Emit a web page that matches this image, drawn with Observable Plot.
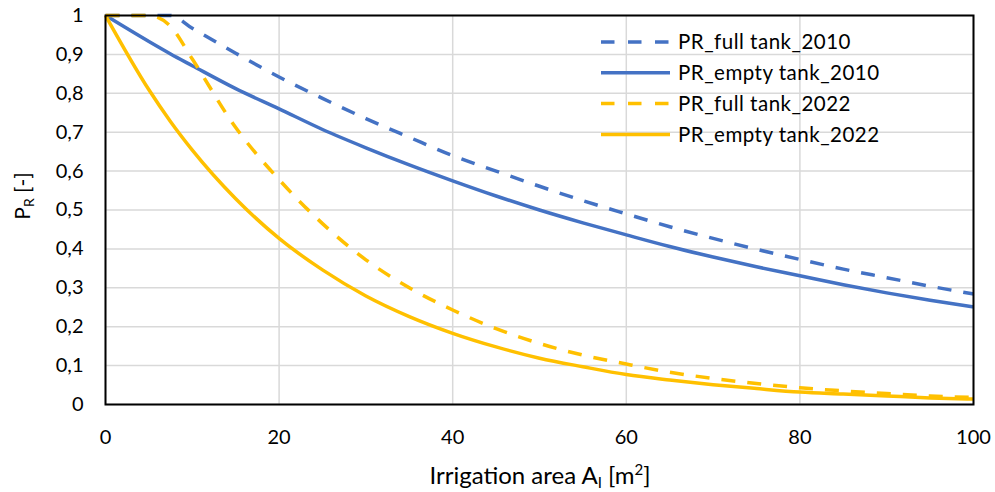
<!DOCTYPE html>
<html>
<head>
<meta charset="utf-8">
<script src="https://cdn.jsdelivr.net/npm/d3@7"></script>
<script src="https://cdn.jsdelivr.net/npm/@observablehq/plot@0.6"></script>
<style>
  html, body { margin: 0; padding: 0; background: #fff; }
  #chart { width: 995px; height: 492px; }
</style>
</head>
<body>
<div id="chart"></div>
<script>
// ---- data ----
const area = [0, 5, 7.5, 10, 15, 20, 25, 30, 35, 40, 45, 50, 55, 60, 65, 70, 75, 80, 85, 90, 95, 100];
const fullTank2010  = [1, 1, 1, 0.967, 0.903, 0.842, 0.787, 0.735, 0.687, 0.640, 0.600, 0.561, 0.524, 0.490, 0.457, 0.427, 0.399, 0.373, 0.348, 0.326, 0.304, 0.284];
const emptyTank2010 = [1, 0.933, 0.901, 0.871, 0.812, 0.760, 0.707, 0.660, 0.616, 0.575, 0.536, 0.500, 0.467, 0.436, 0.406, 0.379, 0.354, 0.331, 0.308, 0.287, 0.268, 0.251];
const fullTank2022  = [1, 1, 0.972, 0.888, 0.712, 0.578, 0.465, 0.372, 0.300, 0.243, 0.195, 0.157, 0.127, 0.104, 0.083, 0.067, 0.054, 0.043, 0.035, 0.028, 0.022, 0.018];
const emptyTank2022 = [1, 0.809, 0.727, 0.654, 0.529, 0.427, 0.346, 0.279, 0.226, 0.183, 0.148, 0.119, 0.097, 0.077, 0.063, 0.051, 0.041, 0.032, 0.027, 0.022, 0.017, 0.014];

const seriesNames = ["PR_full tank_2010", "PR_empty tank_2010", "PR_full tank_2022", "PR_empty tank_2022"];
const seriesValues = [fullTank2010, emptyTank2010, fullTank2022, emptyTank2022];
const seriesColors = ["#4472C4", "#4472C4", "#FFC000", "#FFC000"];
const seriesDashed = [true, false, true, false];

const xTicks = [0, 20, 40, 60, 80, 100];
const yTicks = [0, 0.1, 0.2, 0.3, 0.4, 0.5, 0.6, 0.7, 0.8, 0.9, 1];

// ---- build ----
const rows = seriesNames.map((name, i) => area.map((a, j) => ({series: name, area: a, pr: seriesValues[i][j]})));

const W = 995, H = 492;
const fmt = d => String(d).replace(".", ",");

const plot = Plot.plot({
  width: W,
  height: H,
  marginLeft: 105,
  marginRight: 22,
  marginTop: 15,
  marginBottom: 88,
  style: {fontFamily: "Lato, 'Open Sans', sans-serif", fontSize: "20px", color: "#000", background: "#fff"},
  x: {domain: [0, 100]},
  y: {domain: [0, 1]},
  marks: [
    Plot.gridX(xTicks, {stroke: "#d9d9d9", strokeOpacity: 1, strokeWidth: 1.5}),
    Plot.gridY(yTicks, {stroke: "#d9d9d9", strokeOpacity: 1, strokeWidth: 1.5}),
    ...rows.map((r, i) => Plot.line(r, {
      x: "area", y: "pr",
      stroke: seriesColors[i],
      strokeWidth: 3.5,
      strokeDasharray: seriesDashed[i] ? "14,12" : null,
      strokeLinecap: "butt",
      curve: "monotone-x"
    })),
    Plot.frame({stroke: "#000", strokeWidth: 2}),
    Plot.axisX(xTicks, {tickSize: 0, tickPadding: 25, tickFormat: d => d, label: null}),
    Plot.axisY(yTicks, {tickSize: 0, tickPadding: 22, tickFormat: fmt, label: null})
  ]
});

document.getElementById("chart").appendChild(plot);

// ---- axis titles and legend (text as real SVG text) ----
const svg = d3.select(plot);
const font = "Lato, 'Open Sans', sans-serif";

// x title
const xt = svg.append("text")
  .attr("x", 540).attr("y", 484)
  .attr("text-anchor", "middle")
  .attr("font-family", font).attr("font-size", 24).attr("fill", "#000");
xt.append("tspan").text("Irrigation area A");
xt.append("tspan").attr("font-size", 15).attr("dy", 4).text("I");
xt.append("tspan").attr("dy", -4).text(" [m");
xt.append("tspan").attr("font-size", 15).attr("dy", -9).text("2");
xt.append("tspan").attr("dy", 9).text("]");

// y title
const yt = svg.append("text")
  .attr("transform", "translate(30,196) rotate(-90)")
  .attr("text-anchor", "middle")
  .attr("font-family", font).attr("font-size", 21).attr("fill", "#000");
yt.append("tspan").text("P");
yt.append("tspan").attr("font-size", 14).attr("dy", 4).text("R");
yt.append("tspan").attr("dy", -4).text(" [-]");

// legend
const lg = svg.append("g").attr("transform", "translate(601,42)");
seriesNames.forEach((name, i) => {
  const g = lg.append("g").attr("transform", `translate(0,${i * 30.8})`);
  g.append("line")
    .attr("x1", 0).attr("x2", 69).attr("y1", 0).attr("y2", 0)
    .attr("stroke", seriesColors[i]).attr("stroke-width", 3.5)
    .attr("stroke-linecap", "butt")
    .attr("stroke-dasharray", seriesDashed[i] ? "13.5,13.5" : null);
  g.append("text")
    .attr("x", 77).attr("y", 0).attr("dy", "0.35em")
    .attr("text-anchor", "start")
    .attr("font-family", font).attr("font-size", 20.5)
    .attr("letter-spacing", 0.5).attr("fill", "#000")
    .text(name);
});
</script>
</body>
</html>
